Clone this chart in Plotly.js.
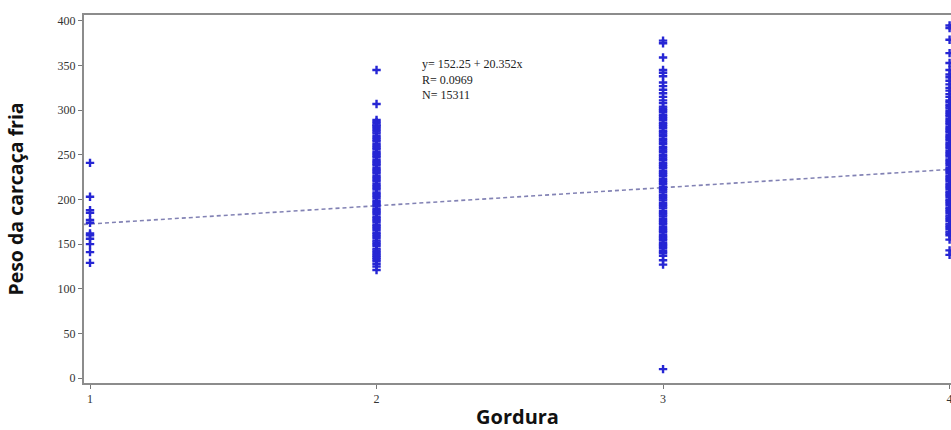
<!DOCTYPE html>
<html>
<head>
<meta charset="utf-8">
<script src="https://cdn.plot.ly/plotly-3.0.1.min.js"></script>
<style>html,body{margin:0;padding:0;background:#fff;}#chart{width:951px;height:430px;}</style>
</head>
<body>
<div id="chart"></div>
<script>
const categories = [1, 2, 3, 4];
const tickLabels = ["1", "2", "3", "4"];

const pesoGordura1 = [241, 203, 188, 185, 177, 174, 162, 160, 156, 150, 141, 129];

const pesoGordura2 = [345, 307, 289, 287, 285, 283, 282, 280, 278, 276, 274, 271, 269, 267, 265, 262, 260, 258, 256, 253,
  251, 249, 247, 244, 242, 240, 238, 235, 233, 231, 229, 226, 224, 222, 220, 217, 215, 213, 211, 208, 206, 204, 202, 199,
  197, 195, 193, 190, 188, 186, 184, 181, 179, 177, 175, 172, 170, 168, 166, 163, 161, 159, 157, 154, 152, 150, 148, 145,
  143, 141, 139, 137, 135, 133, 131, 128, 125, 121];

const pesoGordura3 = [378, 375, 359, 345, 342, 338, 331, 327, 323, 319, 315, 311, 308, 304, 302, 300, 298, 295, 293, 291,
  289, 286, 284, 282, 280, 277, 275, 273, 271, 268, 266, 264, 262, 259, 257, 255, 253, 250, 248, 246, 244, 241, 239, 237,
  235, 232, 230, 228, 226, 223, 221, 219, 217, 214, 212, 210, 208, 205, 203, 201, 199, 196, 194, 192, 190, 187, 185, 183,
  181, 178, 176, 174, 172, 169, 167, 165, 163, 160, 158, 156, 154, 151, 149, 147, 145, 142, 140, 137, 132, 127, 10];

const pesoGordura4 = [395, 392, 379, 364, 353, 345, 340, 337, 333, 329, 325, 322, 318, 315, 311, 309, 306, 304, 302, 299,
  297, 295, 293, 290, 288, 286, 284, 281, 279, 277, 275, 272, 270, 268, 266, 263, 261, 259, 257, 254, 252, 250, 248, 245,
  243, 241, 239, 236, 234, 232, 230, 227, 225, 223, 221, 218, 216, 214, 212, 209, 207, 205, 203, 200, 198, 196, 194, 191,
  189, 187, 185, 182, 180, 178, 176, 173, 171, 169, 167, 164, 162, 160, 155, 143, 138];

// Regression reported on the chart
const intercept = 152.25;
const slope = 20.352;
const rValue = "0.0969";
const nValue = "15311";

const groups = [pesoGordura1, pesoGordura2, pesoGordura3, pesoGordura4];
const xs = [], ys = [];
groups.forEach((vals, i) => { vals.forEach(v => { xs.push(categories[i]); ys.push(v); }); });

const xRange = [0.979, 4.005];
const lineX = [xRange[0], xRange[1]];
const lineY = lineX.map(x => intercept + slope * x);

const serif = "Liberation Serif, Times New Roman, serif";
const sans = "Open Sans, Noto Sans, sans-serif";

const data = [
  {
    type: "scatter", mode: "lines", x: lineX, y: lineY,
    line: {color: "#8282b4", width: 1.6, dash: "4px,3px"},
    hoverinfo: "skip", showlegend: false
  },
  {
    type: "scatter", mode: "markers", x: xs, y: ys,
    marker: {symbol: "cross-thin-open", size: 6, color: "#2626d4", line: {color: "#2626d4", width: 2.4}},
    showlegend: false
  }
];

const layout = {
  width: 951, height: 430,
  margin: {l: 84, r: 0, t: 15, b: 47},
  paper_bgcolor: "#ffffff", plot_bgcolor: "#ffffff",
  showlegend: false,
  xaxis: {
    range: xRange, tickvals: categories, ticktext: tickLabels,
    showgrid: false, zeroline: false,
    showline: true, linecolor: "#8c8c8c", linewidth: 2, mirror: true,
    ticks: "outside", ticklen: 4, tickwidth: 1, tickcolor: "#777",
    ticklabeloverflow: "allow",
    tickfont: {family: serif, size: 12, color: "#333"},
    title: {text: "Gordura", font: {family: sans, size: 20, color: "#111", weight: "bold"}, standoff: 9}
  },
  yaxis: {
    range: [-5.6, 406.7], tickvals: [0, 50, 100, 150, 200, 250, 300, 350, 400],
    showgrid: false, zeroline: false,
    showline: true, linecolor: "#8c8c8c", linewidth: 2, mirror: false,
    ticks: "outside", ticklen: 4, tickwidth: 1, tickcolor: "#777",
    tickfont: {family: serif, size: 12, color: "#333"},
    title: {text: "Peso da carcaça fria", font: {family: sans, size: 19.5, color: "#111", weight: "bold"}, standoff: 29}
  },
  annotations: [{
    xref: "x", yref: "y", x: 2.151, y: 362, xanchor: "left", yanchor: "top", align: "left",
    showarrow: false,
    text: "y= " + intercept + " + " + slope + "x<br>R= " + rValue + "<br>N= " + nValue,
    font: {family: serif, size: 12, color: "#222"}
  }]
};

Plotly.newPlot("chart", data, layout, {displayModeBar: false, staticPlot: true});
</script>
</body>
</html>
